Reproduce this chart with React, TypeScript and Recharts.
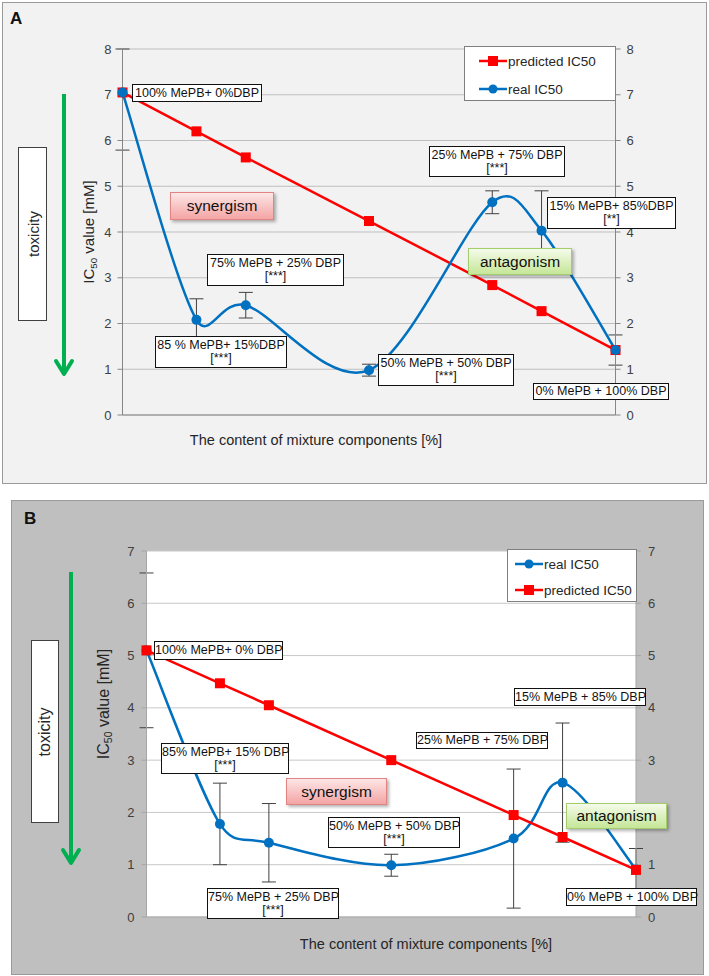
import { LineChart, Line, XAxis, YAxis, CartesianGrid, ErrorBar, Legend } from 'recharts'

const FONT = '"Liberation Sans", Arial, sans-serif'

// share of DBP in the mixture, used as the x position of every point
const dbpShare = [0, 15, 25, 50, 75, 85, 100]

// panel A
const predictedA = [7.05, 6.2, 5.63, 4.24, 2.84, 2.27, 1.42]
const realA = [7.05, 2.08, 2.4, 0.98, 4.65, 4.03, 1.42]
const errA: (number | number[])[] = [[1.26, 0.95], 0.46, 0.28, 0.13, 0.25, 0.87, 0.33]
const ticksA = [0, 1, 2, 3, 4, 5, 6, 7, 8]
const notesA = [
  ['100% MePB+ 0%DBP'],
  ['85 % MePB+ 15%DBP', '[***]'],
  ['75% MePB + 25% DBP', '[***]'],
  ['50% MePB + 50% DBP', '[***]'],
  ['25% MePB + 75% DBP', '[***]'],
  ['15% MePB+ 85%DBP', '[**]'],
  ['0% MePB + 100% DBP'],
]

// panel B
const predictedB = [5.1, 4.47, 4.05, 3.0, 1.95, 1.53, 0.9]
const realB = [5.1, 1.78, 1.42, 0.99, 1.5, 2.57, 0.91]
const errB = [1.48, 0.78, 0.75, 0.21, 1.33, 1.14, 0.4]
const ticksB = [0, 1, 2, 3, 4, 5, 6, 7]
const notesB = [
  ['100% MePB+ 0% DBP'],
  ['85% MePB+ 15% DBP', '[***]'],
  ['75% MePB + 25% DBP', '[***]'],
  ['50% MePB + 50% DBP', '[***]'],
  ['25% MePB + 75% DBP'],
  ['15% MePB + 85% DBP'],
  ['0% MePB + 100% DBP'],
]

const rowsA = dbpShare.map((x, i) => ({ dbp: x, predicted: predictedA[i], real: realA[i], err: errA[i] }))
const rowsB = dbpShare.map((x, i) => ({ dbp: x, predicted: predictedB[i], real: realB[i], err: errB[i] }))

// Excel-like smoothed line: bezier with tangents from the neighbours, capped to half the segment
function excelSmooth(context: any) {
  let pts: number[][] = []
  return {
    areaStart() {},
    areaEnd() {},
    lineStart() {
      pts = []
    },
    point(x: number, y: number) {
      pts.push([+x, +y])
    },
    lineEnd() {
      const n = pts.length
      if (!n) return
      context.moveTo(pts[0][0], pts[0][1])
      for (let i = 0; i < n - 1; i++) {
        const p0 = pts[Math.max(i - 1, 0)]
        const p1 = pts[i]
        const p2 = pts[i + 1]
        const p3 = pts[Math.min(i + 2, n - 1)]
        const seg = Math.hypot(p2[0] - p1[0], p2[1] - p1[1])
        const d1 = Math.hypot(p2[0] - p0[0], p2[1] - p0[1]) || 1
        const d2 = Math.hypot(p3[0] - p1[0], p3[1] - p1[1]) || 1
        const k1 = Math.min(d1 / 6, seg / 2) / d1
        const k2 = Math.min(d2 / 6, seg / 2) / d2
        context.bezierCurveTo(
          p1[0] + (p2[0] - p0[0]) * k1,
          p1[1] + (p2[1] - p0[1]) * k1,
          p2[0] - (p3[0] - p1[0]) * k2,
          p2[1] - (p3[1] - p1[1]) * k2,
          p2[0],
          p2[1]
        )
      }
    },
  }
}

const RED = '#ff0000'
const BLUE = '#0070c0'

const squareDot = (props: any) => {
  const { cx, cy, index } = props
  return <rect key={`sq-${index}`} x={cx - 5} y={cy - 5} width={10} height={10} fill={RED} />
}

type Box = [number, number, number, number]

function NoteBox({ lines, box }: { lines: string[]; box: Box }) {
  return (
    <div
      style={{
        position: 'absolute',
        left: box[0],
        top: box[1],
        width: box[2],
        height: box[3],
        boxSizing: 'border-box',
        border: '1.5px solid #111',
        background: '#fff',
        fontSize: 12.5,
        lineHeight: '13px',
        textAlign: 'center',
        display: 'flex',
        flexDirection: 'column',
        justifyContent: 'center',
        color: '#111',
        whiteSpace: 'nowrap',
      }}
    >
      {lines.map((l) => (
        <div key={l}>{l}</div>
      ))}
    </div>
  )
}

function EffectBox({ text, box, kind }: { text: string; box: Box; kind: 'syn' | 'ant' }) {
  const syn = kind === 'syn'
  return (
    <div
      style={{
        position: 'absolute',
        left: box[0],
        top: box[1],
        width: box[2],
        height: box[3],
        boxSizing: 'border-box',
        border: `1px solid ${syn ? '#e08484' : '#a3cd6c'}`,
        background: syn ? 'linear-gradient(#fde6e6, #f4a4a4)' : 'linear-gradient(#f5fbea, #c5e697)',
        boxShadow: '2px 2px 3px rgba(0,0,0,0.3)',
        fontSize: 15.5,
        display: 'flex',
        alignItems: 'center',
        justifyContent: 'center',
        color: '#111',
      }}
    >
      {text}
    </div>
  )
}

function GreenArrow({ x, y1, y2 }: { x: number; y1: number; y2: number }) {
  const h = y2 - y1
  return (
    <svg style={{ position: 'absolute', left: x - 12, top: y1, overflow: 'visible' }} width={24} height={h}>
      <line x1={12} y1={0} x2={12} y2={h - 2} stroke="#00b050" strokeWidth={4} />
      <polyline
        points={`4,${h - 15} 12,${h - 2} 20,${h - 15}`}
        fill="none"
        stroke="#00b050"
        strokeWidth={4}
        strokeLinecap="round"
        strokeLinejoin="round"
      />
    </svg>
  )
}

function Rotated({ x, y, size, children }: { x: number; y: number; size: number; children: any }) {
  return (
    <div
      style={{
        position: 'absolute',
        left: x,
        top: y,
        transform: 'translate(-50%, -50%) rotate(-90deg)',
        whiteSpace: 'nowrap',
        fontSize: size,
        lineHeight: 1,
        color: '#262626',
      }}
    >
      {children}
    </div>
  )
}

const legendContent = (pad: number[], rowH: number, box: Box) => (props: any) => (
  <div
    style={{
      width: box[2],
      height: box[3],
      boxSizing: 'border-box',
      border: '1px solid #7f7f7f',
      background: '#fff',
      paddingLeft: pad[0],
      paddingTop: pad[1],
      fontFamily: FONT,
    }}
  >
    {(props.payload || []).map((e: any) => (
      <div
        key={e.dataKey}
        style={{ display: 'flex', alignItems: 'center', height: rowH, fontSize: 13.5, color: '#262626', whiteSpace: 'nowrap' }}
      >
        <svg width={28} height={12}>
          <line x1={0} y1={6} x2={28} y2={6} stroke={e.color} strokeWidth={2.5} />
          {e.dataKey === 'real' ? (
            <circle cx={14} cy={6} r={4.5} fill={e.color} />
          ) : (
            <rect x={9} y={1} width={10} height={10} fill={e.color} />
          )}
        </svg>
        <span style={{ marginLeft: 1 }}>{e.value}</span>
      </div>
    ))}
  </div>
)

interface PanelProps {
  letter: string
  letterPos: number[]
  frame: Box
  frameBg: string
  chartTop: number
  chartHeight: number
  margin: { top: number; right: number; bottom: number; left: number }
  rows: any[]
  yMax: number
  ticks: number[]
  plotFill?: string
  gridColor: string
  axisColor: string
  tickMargin: number
  realFirst: boolean
  legendBox: Box
  legendPad: number[]
  legendRow: number
  notes: string[][]
  noteBoxes: Box[]
  synBox: Box
  antBox: Box
  toxBox: Box
  toxSize: number
  arrow: number[]
  yTitle: number[]
  xTitle: number[]
}

function Panel(p: PanelProps) {
  const tickStyle = { fill: '#404040', fontSize: 13, fontFamily: FONT }
  const predicted = (
    <Line
      key="predicted"
      yAxisId="right"
      dataKey="predicted"
      name="predicted IC50"
      stroke={RED}
      strokeWidth={2.5}
      dot={squareDot}
      activeDot={false}
      isAnimationActive={false}
    />
  )
  const real = (
    <Line
      key="real"
      yAxisId="left"
      dataKey="real"
      name="real IC50"
      type={excelSmooth as any}
      stroke={BLUE}
      strokeWidth={2.5}
      dot={{ r: 5, fill: BLUE, stroke: BLUE, strokeWidth: 0 }}
      activeDot={false}
      isAnimationActive={false}
    >
      <ErrorBar dataKey="err" width={7} stroke="#404040" strokeWidth={1} direction="y" isAnimationActive={false} />
    </Line>
  )
  const lb = p.legendBox
  const legendOrder = (e: any) => ((e.dataKey === 'real') === p.realFirst ? 0 : 1)
  return (
    <>
      <div
        style={{
          position: 'absolute',
          left: p.frame[0],
          top: p.frame[1],
          width: p.frame[2],
          height: p.frame[3],
          boxSizing: 'border-box',
          border: '1px solid #9a9a9a',
          background: p.frameBg,
        }}
      />
      <div
        style={{
          position: 'absolute',
          left: p.letterPos[0],
          top: p.letterPos[1],
          fontSize: 17,
          fontWeight: 'bold',
          lineHeight: 1,
          color: '#111',
        }}
      >
        {p.letter}
      </div>
      <div
        style={{
          position: 'absolute',
          left: p.toxBox[0],
          top: p.toxBox[1],
          width: p.toxBox[2],
          height: p.toxBox[3],
          boxSizing: 'border-box',
          border: '1px solid #404040',
          background: '#fff',
        }}
      />
      <Rotated x={p.toxBox[0] + p.toxBox[2] / 2} y={p.toxBox[1] + p.toxBox[3] / 2} size={p.toxSize}>
        toxicity
      </Rotated>
      <GreenArrow x={p.arrow[0]} y1={p.arrow[1]} y2={p.arrow[2]} />
      <Rotated x={p.yTitle[0]} y={p.yTitle[1]} size={p.yTitle[2]}>
        IC<sub style={{ fontSize: '0.65em', verticalAlign: '-0.25em' }}>50</sub> value [mM]
      </Rotated>
      <div
        style={{
          position: 'absolute',
          left: p.xTitle[0],
          top: p.xTitle[1],
          transform: 'translate(-50%, -50%)',
          fontSize: p.xTitle[2],
          whiteSpace: 'nowrap',
          color: '#262626',
        }}
      >
        The content of mixture components [%]
      </div>
      <div style={{ position: 'absolute', left: 0, top: p.chartTop }}>
        <LineChart width={709} height={p.chartHeight} data={p.rows} margin={p.margin}>
          <CartesianGrid
            yAxisId="left"
            vertical={false}
            stroke={p.gridColor}
            fill={p.plotFill || 'none'}
            fillOpacity={1}
          />
          <XAxis
            type="number"
            dataKey="dbp"
            domain={[0, 100]}
            tick={false}
            tickLine={false}
            stroke={p.axisColor}
            height={20}
          />
          <YAxis
            yAxisId="left"
            type="number"
            domain={[0, p.yMax]}
            ticks={p.ticks}
            interval={0}
            width={50}
            stroke={p.axisColor}
            tickSize={5}
            tickMargin={p.tickMargin}
            tick={tickStyle}
          />
          <YAxis
            yAxisId="right"
            orientation="right"
            type="number"
            domain={[0, p.yMax]}
            ticks={p.ticks}
            interval={0}
            width={50}
            stroke={p.axisColor}
            tickSize={5}
            tickMargin={p.tickMargin}
            tick={tickStyle}
          />
          <Legend
            layout="vertical"
            align="center"
            verticalAlign="middle"
            itemSorter={legendOrder}
            wrapperStyle={{ left: lb[0], top: lb[1] - p.chartTop, width: lb[2], height: lb[3] }}
            content={legendContent(p.legendPad, p.legendRow, lb)}
          />
          {p.realFirst ? [real, predicted] : [predicted, real]}
        </LineChart>
      </div>
      {p.notes.map((lines, i) => (
        <NoteBox key={i} lines={lines} box={p.noteBoxes[i]} />
      ))}
      <EffectBox text="synergism" box={p.synBox} kind="syn" />
      <EffectBox text="antagonism" box={p.antBox} kind="ant" />
    </>
  )
}

export default function App() {
  return (
    <div
      style={{
        position: 'absolute',
        left: 0,
        top: 0,
        width: 709,
        height: 976,
        background: '#fff',
        fontFamily: FONT,
        overflow: 'hidden',
      }}
    >
      <Panel
        letter="A"
        letterPos={[10, 10]}
        frame={[2, 2, 705, 482]}
        frameBg="#f2f2f2"
        chartTop={0}
        chartHeight={490}
        margin={{ top: 49, right: 43.5, bottom: 55, left: 72.5 }}
        rows={rowsA}
        yMax={8}
        ticks={ticksA}
        gridColor="#bfbfbf"
        axisColor="#868686"
        tickMargin={6}
        realFirst={false}
        legendBox={[464, 46, 152, 55]}
        legendPad={[14, 0]}
        legendRow={28}
        notes={notesA}
        noteBoxes={[
          [132, 84, 130, 18],
          [155, 336, 132, 32],
          [207, 254, 137, 32],
          [378, 354, 136, 32],
          [429, 146, 136, 31],
          [547, 197, 129, 32],
          [533, 383, 136, 17],
        ]}
        synBox={[170, 192, 104, 28]}
        antBox={[468, 248, 104, 27]}
        toxBox={[18, 147, 29, 174]}
        toxSize={15}
        arrow={[64, 94, 376]}
        yTitle={[90, 232, 15]}
        xTitle={[316, 440, 14.5]}
      />
      <Panel
        letter="B"
        letterPos={[24, 510]}
        frame={[11, 500, 693, 475]}
        frameBg="#bfbfbf"
        chartTop={495}
        chartHeight={481}
        margin={{ top: 56, right: 23, bottom: 39, left: 96.5 }}
        rows={rowsB}
        yMax={7}
        ticks={ticksB}
        plotFill="#ffffff"
        gridColor="#c8c8c8"
        axisColor="#a6a6a6"
        tickMargin={7}
        realFirst={true}
        legendBox={[507, 549, 130, 53]}
        legendPad={[7, 1]}
        legendRow={26}
        notes={notesB}
        noteBoxes={[
          [154, 641, 129, 19],
          [161, 743, 128, 31],
          [207, 888, 132, 31],
          [328, 817, 132, 31],
          [416, 732, 132, 17],
          [514, 688, 132, 18],
          [566, 888, 131, 18],
        ]}
        synBox={[286, 778, 101, 27]}
        antBox={[566, 803, 101, 26]}
        toxBox={[31, 640, 28, 183]}
        toxSize={16}
        arrow={[71, 572, 865]}
        yTitle={[105, 704, 16]}
        xTitle={[426, 944, 14.5]}
      />
    </div>
  )
}
